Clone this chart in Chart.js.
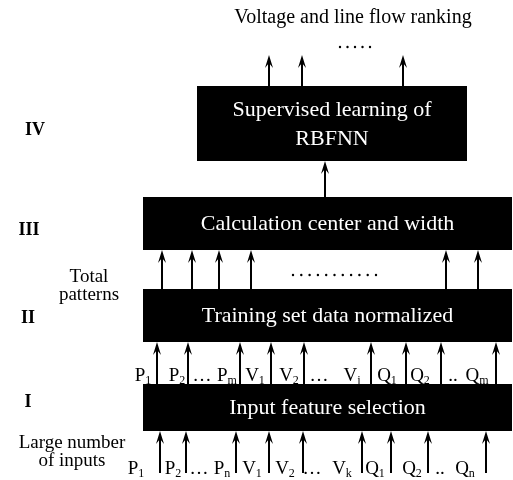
<!DOCTYPE html>
<html>
<head>
<meta charset="utf-8">
<script src="https://cdn.jsdelivr.net/npm/chart.js@4"></script>
<style>
  body { margin: 0; background: #fff; }
  #wrap { width: 513px; height: 480px; }
</style>
</head>
<body>
<div id="wrap"><canvas id="c" width="513" height="480"></canvas></div>
<script>
// diagram units = pixels of the 513x480 reference
const boxTexts = [['Supervised learning of', 'RBFNN'], ['Calculation center and width'], ['Training set data normalized'], ['Input feature selection']];
const boxLeft = [197, 143, 143, 143];
const boxRight = [467, 512, 512, 512];
const boxTop = [86, 197, 289, 384];
const boxBottom = [161, 250, 342, 431];

const levelLabels = ['IV', 'III', 'II', 'I'];
const levelX = [35, 29, 28, 28];
const levelY = [130, 230, 318, 402];

// arrow groups: x positions, tail y, tip y
const arrowGroups = [
  { x: [269, 302, 403], from: 86, to: 55 },
  { x: [325], from: 197, to: 161 },
  { x: [162, 192, 219, 251, 446, 478], from: 289, to: 250 },
  { x: [157, 188, 240, 271, 304, 371, 406, 441, 496], from: 384, to: 342 },
  { x: [160, 186, 236, 269, 303, 362, 391, 428, 486], from: 473, to: 431 }
];

const upperBase = ['P', 'P', '…', 'P', 'V', 'V', '…', 'V', 'Q', 'Q', '..', 'Q'];
const upperSub = ['1', '2', '', 'm', '1', '2', '', 'j', '1', '2', '', 'm'];
const upperX = [143, 177, 202, 227, 255, 289, 319, 352, 387, 420, 453, 477];
const upperY = 381;

const lowerBase = ['P', 'P', '…', 'P', 'V', 'V', '…', 'V', 'Q', 'Q', '..', 'Q'];
const lowerSub = ['1', '2', '', 'n', '1', '2', '', 'k', '1', '2', '', 'n'];
const lowerX = [136, 173, 199, 222, 252, 285, 312, 342, 375, 412, 440, 465];
const lowerY = 474;

const sideTexts = [['Total', 'patterns'], ['Large number', 'of inputs']];
const sideX = [89, 72];
const sideY = [277, 443];

const dotRows = [{ x0: 340, x1: 370, n: 5, y: 47 }, { x0: 293, x1: 376, n: 11, y: 275 }];

const SERIF = "'Liberation Serif', 'Times New Roman', serif";

function arrow(ctx, x, yFrom, yTo) {
  const dir = yTo < yFrom ? 1 : -1;
  ctx.beginPath();
  ctx.moveTo(x, yFrom);
  ctx.lineTo(x, yTo + dir * 8);
  ctx.lineWidth = 2;
  ctx.stroke();
  ctx.beginPath();
  ctx.moveTo(x, yTo);
  ctx.lineTo(x + 4, yTo + dir * 13);
  ctx.lineTo(x, yTo + dir * 8);
  ctx.lineTo(x - 4, yTo + dir * 13);
  ctx.closePath();
  ctx.fill();
}

function subLabel(ctx, cx, y, base, sub) {
  ctx.font = '19px ' + SERIF;
  const wb = ctx.measureText(base).width;
  ctx.font = '12px ' + SERIF;
  const ws = ctx.measureText(sub).width;
  const x0 = cx - (wb + ws) / 2;
  ctx.textAlign = 'left';
  ctx.font = '19px ' + SERIF;
  ctx.fillText(base, x0, y);
  ctx.font = '12px ' + SERIF;
  ctx.fillText(sub, x0 + wb, y + 3);
}

const diagram = {
  id: 'diagram',
  afterDraw(chart) {
    const ctx = chart.ctx;
    const sx = v => chart.scales.x.getPixelForValue(v);
    const sy = v => chart.scales.y.getPixelForValue(v);
    ctx.save();
    ctx.fillStyle = '#000';
    ctx.strokeStyle = '#000';
    ctx.textBaseline = 'alphabetic';

    // boxes
    boxTexts.forEach((lines, i) => {
      const x0 = sx(boxLeft[i]), x1 = sx(boxRight[i]);
      const y0 = sy(boxTop[i]), y1 = sy(boxBottom[i]);
      ctx.fillStyle = '#000';
      ctx.fillRect(x0, y0, x1 - x0, y1 - y0);
      ctx.fillStyle = '#fff';
      ctx.font = '22px ' + SERIF;
      ctx.textAlign = 'center';
      ctx.textBaseline = 'middle';
      const cy = (y0 + y1) / 2;
      const lh = 29;
      lines.forEach((t, k) => {
        ctx.fillText(t, (x0 + x1) / 2, cy + (k - (lines.length - 1) / 2) * lh + 1);
      });
    });

    ctx.fillStyle = '#000';
    arrowGroups.forEach(g => g.x.forEach(x => arrow(ctx, sx(x), sy(g.from), sy(g.to))));

    // title
    ctx.textAlign = 'center';
    ctx.textBaseline = 'middle';
    ctx.font = '20px ' + SERIF;
    ctx.fillText('Voltage and line flow ranking', sx(353), sy(18));

    // level numerals
    ctx.font = 'bold 18px ' + SERIF;
    levelLabels.forEach((t, i) => ctx.fillText(t, sx(levelX[i]), sy(levelY[i])));

    // side notes
    ctx.font = '19px ' + SERIF;
    sideTexts.forEach((lines, i) => {
      lines.forEach((t, k) => ctx.fillText(t, sx(sideX[i]), sy(sideY[i] + k * 18)));
    });

    // dotted rows
    dotRows.forEach(r => {
      for (let k = 0; k < r.n; k++) {
        const x = r.x0 + (r.x1 - r.x0) * k / (r.n - 1);
        ctx.beginPath();
        ctx.arc(sx(x), sy(r.y), 1.2, 0, Math.PI * 2);
        ctx.fill();
      }
    });

    // subscripted input labels
    ctx.textBaseline = 'alphabetic';
    upperBase.forEach((b, i) => subLabel(ctx, sx(upperX[i]), sy(upperY), b, upperSub[i]));
    lowerBase.forEach((b, i) => subLabel(ctx, sx(lowerX[i]), sy(lowerY), b, lowerSub[i]));

    ctx.restore();
  }
};

new Chart(document.getElementById('c'), {
  type: 'scatter',
  data: { datasets: [{ data: [], pointRadius: 0 }] },
  options: {
    responsive: false,
    animation: false,
    layout: { padding: 0 },
    plugins: { legend: { display: false }, tooltip: { enabled: false } },
    scales: {
      x: { type: 'linear', min: 0, max: 513, display: false },
      y: { type: 'linear', min: 0, max: 480, reverse: true, display: false }
    }
  },
  plugins: [diagram]
});
</script>
</body>
</html>
